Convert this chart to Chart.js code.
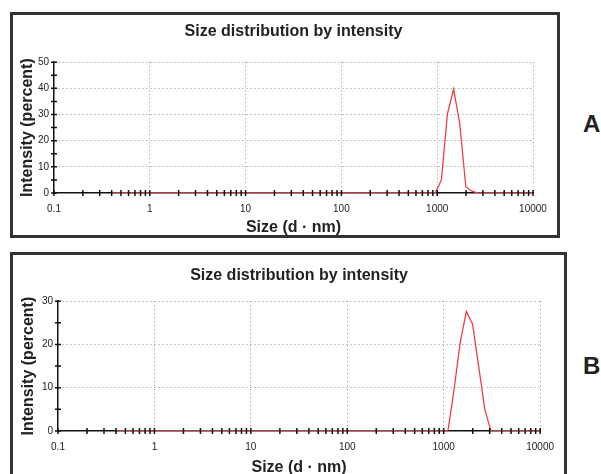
<!DOCTYPE html>
<html>
<head>
<meta charset="utf-8">
<script src="https://cdn.jsdelivr.net/npm/chart.js@4.4.1/dist/chart.umd.min.js"></script>
<style>
body { margin:0; background:#fff; width:601px; height:474px; overflow:hidden; position:relative; font-family:'Liberation Sans', Arial, sans-serif; }
.panel { position:absolute; border:3px solid #333; background:#fff; }
#panelA { left:10px; top:12px; width:544px; height:220px; }
#panelB { left:10px; top:252px; width:551px; height:234px; }
canvas { display:block; }
.tag { position:absolute; font-weight:bold; font-size:24px; line-height:1; color:#222; }
</style>
</head>
<body>
<div class="panel" id="panelA"><canvas id="chartA" width="544" height="220"></canvas></div>
<div class="panel" id="panelB"><canvas id="chartB" width="551" height="234"></canvas></div>
<div class="tag" style="left:583px; top:112px">A</div>
<div class="tag" style="left:583px; top:354px">B</div>
<script>
// Clases de tamaño (nm) del equipo
const tamanos = [0.4, 0.4632, 0.5365, 0.6213, 0.7195, 0.8332, 0.9649, 1.117, 1.294, 1.499,
    1.736, 2.01, 2.328, 2.696, 3.122, 3.615, 4.187, 4.849, 5.615, 6.503,
    7.531, 8.721, 10.1, 11.7, 13.54, 15.69, 18.17, 21.04, 24.36, 28.21,
    32.67, 37.84, 43.82, 50.75, 58.77, 68.06, 78.82, 91.28, 105.7, 122.4,
    141.8, 164.2, 190.1, 220.2, 255.0, 295.3, 342.0, 396.1, 458.7, 531.2,
    615.1, 712.4, 825.0, 955.4, 1106, 1281, 1484, 1718, 1990, 2305,
    2669, 3091, 3580, 4145, 4801, 5560, 6439, 7456, 8635, 10000];

// Intensidad (%) muestra A
const intensidadA = [0, 0, 0, 0, 0, 0, 0, 0, 0, 0,
    0, 0, 0, 0, 0, 0, 0, 0, 0, 0,
    0, 0, 0, 0, 0, 0, 0, 0, 0, 0,
    0, 0, 0, 0, 0, 0, 0, 0, 0, 0,
    0, 0, 0, 0, 0, 0, 0, 0, 0, 0,
    0, 0, 0, 0, 5.0, 30.4, 39.7, 26.6, 2.4, 0.7,
    0, 0, 0, 0, 0, 0, 0, 0, 0, 0];

// Intensidad (%) muestra B
const intensidadB = [0, 0, 0, 0, 0, 0, 0, 0, 0, 0,
    0, 0, 0, 0, 0, 0, 0, 0, 0, 0,
    0, 0, 0, 0, 0, 0, 0, 0, 0, 0,
    0, 0, 0, 0, 0, 0, 0, 0, 0, 0,
    0, 0, 0, 0, 0, 0, 0, 0, 0, 0,
    0, 0, 0, 0, 0, 9.5, 20.5, 27.6, 24.8, 15.0,
    5.0, 0, 0, 0, 0, 0, 0, 0, 0, 0];

// Etiquetas del eje X
const xEtiquetasValores = [0.1, 1, 10, 100, 1000, 10000];
const xEtiquetas = ['0.1', '1', '10', '100', '1000', '10000'];

Chart.defaults.font.family = "'Liberation Sans', Arial, sans-serif";
Chart.defaults.color = '#222';

const GRIS = '#8c8c8c';
const NADA = 'rgba(0,0,0,0)';

// marcas menores 2..9 en cada década
function marcasX() {
    const lista = [];
    for (let i = 0; i < xEtiquetasValores.length - 1; i++) {
        const p = xEtiquetasValores[i];
        lista.push({ value: p });
        for (let m = 2; m <= 9; m++) lista.push({ value: m * p });
    }
    lista.push({ value: xEtiquetasValores[xEtiquetasValores.length - 1] });
    return lista;
}

function marcasY(max) {
    const lista = [];
    for (let v = 0; v <= max; v += 5) lista.push({ value: v });
    return lista;
}

// rayitas que cruzan los ejes, encima de la curva
const marcasEjes = {
    id: 'marcasEjes',
    afterDatasetsDraw(chart) {
        const { ctx, scales: { x, y } } = chart;
        ctx.save();
        ctx.strokeStyle = '#111';
        ctx.lineWidth = 1.5;
        ctx.beginPath();
        x.ticks.forEach(t => {
            const px = x.getPixelForValue(t.value);
            ctx.moveTo(px, y.bottom - 3);
            ctx.lineTo(px, y.bottom + 3);
        });
        y.ticks.forEach(t => {
            const py = y.getPixelForValue(t.value);
            ctx.moveTo(x.left - 3, py);
            ctx.lineTo(x.left + 3, py);
        });
        ctx.stroke();
        ctx.restore();
    }
};

function crearGrafica(id, valores, yMax, L) {
    const ctx = document.getElementById(id).getContext('2d');
    return new Chart(ctx, {
        type: 'line',
        data: {
            datasets: [{
                data: tamanos.map((t, i) => ({ x: t, y: valores[i] })),
                borderColor: '#ee4048',
                borderWidth: 1.3,
                pointRadius: 0,
                tension: 0,
                fill: false
            }]
        },
        options: {
            responsive: false,
            animation: false,
            layout: { padding: { left: 0, right: L.padRight, top: 0, bottom: 0 } },
            plugins: {
                legend: { display: false },
                tooltip: { enabled: false },
                title: {
                    display: true,
                    fullSize: false,
                    text: 'Size distribution by intensity',
                    color: '#222',
                    font: { size: 16, weight: 'bold' },
                    padding: { top: L.tTop, bottom: L.tBottom }
                }
            },
            scales: {
                x: {
                    type: 'logarithmic',
                    min: 0.1,
                    max: 10000,
                    afterBuildTicks: s => { s.ticks = marcasX(); },
                    afterFit: s => { s.height = L.xAltura; },
                    ticks: {
                        autoSkip: false,
                        maxRotation: 0,
                        padding: 10,
                        font: { size: 10 },
                        callback: v => {
                            const i = xEtiquetasValores.indexOf(v);
                            return i >= 0 ? xEtiquetas[i] : '';
                        }
                    },
                    grid: {
                        drawTicks: false,
                        lineWidth: 1,
                        color: c => (c.tick && c.tick.value > 0.1 && xEtiquetasValores.includes(c.tick.value)) ? GRIS : NADA
                    },
                    border: { color: '#111', width: 1.5, dash: [1, 3] },
                    title: {
                        display: true,
                        text: 'Size (d · nm)',
                        font: { size: 16, weight: 'bold' },
                        padding: { top: 0, bottom: L.xTitulo }
                    }
                },
                y: {
                    min: 0,
                    max: yMax,
                    afterBuildTicks: s => { s.ticks = marcasY(yMax); },
                    afterFit: s => { s.width = L.yAncho; },
                    ticks: {
                        autoSkip: false,
                        padding: 5,
                        font: { size: 10 },
                        callback: v => (v % 10 === 0 ? String(v) : '')
                    },
                    grid: {
                        drawTicks: false,
                        lineWidth: 1,
                        color: c => (c.tick && c.tick.value > 0 && c.tick.value % 10 === 0) ? GRIS : NADA
                    },
                    border: { color: '#111', width: 1.5, dash: [1, 3] },
                    title: {
                        display: true,
                        text: 'Intensity (percent)',
                        font: { size: 16, weight: 'bold' },
                        padding: { top: L.yTitulo, bottom: 0 }
                    }
                }
            }
        },
        plugins: [marcasEjes]
    });
}

crearGrafica('chartA', intensidadA, 50, {
    padRight: 24, tTop: 7, tBottom: 21, xAltura: 42, xTitulo: -2, yAncho: 41, yTitulo: 5
});
crearGrafica('chartB', intensidadB, 30, {
    padRight: 21, tTop: 11, tBottom: 16, xAltura: 58, xTitulo: 12, yAncho: 45, yTitulo: 6
});
</script>
</body>
</html>
